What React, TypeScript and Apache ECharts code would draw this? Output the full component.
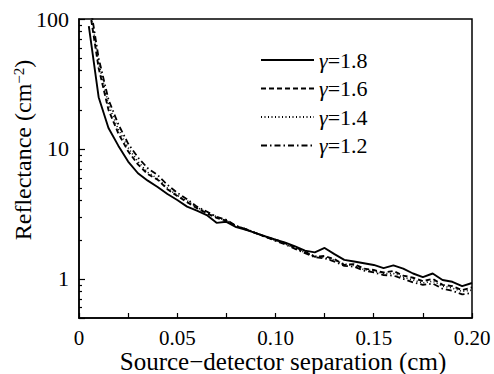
import React, { useEffect, useRef } from "react";
import * as echarts from "echarts";

const SEPARATION = [
  0.005, 0.01, 0.015, 0.02, 0.025, 0.03, 0.035, 0.04, 0.045, 0.05,
  0.055, 0.06, 0.065, 0.07, 0.075, 0.08, 0.085, 0.09, 0.095, 0.1,
  0.105, 0.11, 0.115, 0.12, 0.125, 0.13, 0.135, 0.14, 0.145, 0.15,
  0.155, 0.16, 0.165, 0.17, 0.175, 0.18, 0.185, 0.19, 0.195, 0.2,
];

const GAMMA_18 = [
  88, 25, 14.5, 10.6, 8.0, 6.5, 5.7, 5.1, 4.5, 4.05,
  3.6, 3.35, 3.1, 2.7, 2.75, 2.5, 2.38, 2.25, 2.12, 2.0,
  1.9, 1.78, 1.65, 1.6, 1.73, 1.55, 1.4, 1.36, 1.32, 1.28,
  1.21, 1.27, 1.2, 1.1, 1.03, 1.1, 0.98, 0.95, 0.88, 0.93,
];

const GAMMA_16 = [
  130, 42, 20, 13.2, 9.6, 7.6, 6.4, 5.8, 4.9, 4.35,
  3.9, 3.5, 3.2, 2.95, 2.8, 2.55, 2.4, 2.25, 2.1, 2.0,
  1.88, 1.75, 1.62, 1.48, 1.5, 1.42, 1.28, 1.3, 1.2, 1.17,
  1.12, 1.15, 1.06, 1.02, 0.96, 1.0, 0.9, 0.88, 0.82, 0.86,
];

const GAMMA_14 = [
  140, 46, 22, 14.2, 10.2, 8.0, 6.6, 5.9, 5.0, 4.4,
  4.0, 3.55, 3.25, 3.0, 2.8, 2.55, 2.42, 2.25, 2.12, 1.98,
  1.86, 1.72, 1.6, 1.5, 1.46, 1.4, 1.3, 1.27, 1.18, 1.15,
  1.1, 1.1, 1.03, 0.98, 0.93, 0.96, 0.88, 0.85, 0.8, 0.82,
];

const GAMMA_12 = [
  150, 50, 24, 15.5, 11.0, 8.6, 7.1, 6.3, 5.3, 4.6,
  4.1, 3.6, 3.3, 3.0, 2.85, 2.55, 2.42, 2.25, 2.1, 1.96,
  1.84, 1.7, 1.58, 1.47, 1.44, 1.36, 1.26, 1.24, 1.16, 1.12,
  1.07, 1.06, 1.0, 0.94, 0.9, 0.92, 0.84, 0.81, 0.76, 0.78,
];

const SERIES_NAMES = ["γ=1.8", "γ=1.6", "γ=1.4", "γ=1.2"];
const Y_LABELS = [1, 10, 100];
const Y_MINOR_TICKS = [
  0.6, 0.7, 0.8, 0.9, 2, 3, 4, 5, 6, 7, 8, 9, 20, 30, 40, 50, 60, 70, 80, 90,
];

const FONT = "Liberation Serif";

export default function App() {
  const ref = useRef<HTMLDivElement>(null);

  useEffect(() => {
    if (!ref.current) return;
    const chart = echarts.init(ref.current, undefined, { renderer: "svg" });
    const zip = (ys: number[]) => SEPARATION.map((x, i) => [x, ys[i]]);
    const styles = [
      { type: "solid" as any, width: 1.9 },
      { type: [5, 3] as any, width: 1.9 },
      { type: [1, 2.5] as any, width: 1.6 },
      { type: [6, 3, 1.5, 3] as any, width: 1.8 },
    ];
    const values = [GAMMA_18, GAMMA_16, GAMMA_14, GAMMA_12];

    chart.setOption({
      animation: false,
      backgroundColor: "#fff",
      textStyle: { fontFamily: FONT },
      grid: {
        left: 79,
        right: 22,
        top: 19,
        bottom: 56,
        show: true,
        borderColor: "#000",
        borderWidth: 1.5,
        backgroundColor: "transparent",
      },
      legend: {
        orient: "vertical",
        left: 260,
        top: 49,
        itemWidth: 53,
        itemHeight: 12,
        itemGap: 6.5,
        padding: 0,
        data: SERIES_NAMES,
        itemStyle: { opacity: 0 },
        formatter: (name: string) => `{i|γ}{n|${name.slice(1)}}`,
        textStyle: {
          fontFamily: FONT,
          fontSize: 22,
          lineHeight: 22,
          color: "#000",
          rich: {
            i: { fontFamily: FONT, fontSize: 22, fontStyle: "italic", color: "#000" },
            n: { fontFamily: FONT, fontSize: 22, color: "#000" },
          },
        },
      },
      xAxis: {
        type: "value",
        min: 0,
        max: 0.2,
        interval: 0.05,
        axisLine: { show: true, onZero: false, lineStyle: { color: "#000", width: 1.5 } },
        axisTick: { show: true, inside: true, length: 5, lineStyle: { color: "#000", width: 1.2 } },
        minorTick: { show: true, splitNumber: 2, length: 5, lineStyle: { color: "#000", width: 1.2 } },
        splitLine: { show: false },
        axisLabel: {
          color: "#000",
          fontFamily: FONT,
          fontSize: 21,
          lineHeight: 21,
          margin: 9,
          formatter: (v: number) => (v === 0 ? "0" : v.toFixed(2)),
        },
      },
      yAxis: [
        {
          type: "log",
          logBase: 10,
          min: 0.5,
          max: 100,
          axisLine: { show: true, onZero: false, lineStyle: { color: "#000", width: 1.5 } },
          axisTick: { show: true, inside: true, length: 6, lineStyle: { color: "#000", width: 1.2 } },
          splitLine: { show: false },
          axisLabel: {
            color: "#000",
            fontFamily: FONT,
            fontSize: 22,
            margin: 10,
            formatter: (v: number) => {
              const hit = Y_LABELS.find((l) => Math.abs(l - v) < l * 1e-6);
              return hit !== undefined ? String(hit) : "";
            },
          },
        },
        {
          type: "value",
          min: Math.log10(0.5),
          max: 2,
          position: "left",
          axisLine: { show: false, onZero: false },
          axisLabel: { show: false },
          splitLine: { show: false },
          axisTick: {
            show: true,
            inside: true,
            length: 3,
            customValues: Y_MINOR_TICKS.map((v) => Math.log10(v)),
            lineStyle: { color: "#000", width: 1.2 },
          },
        },
      ],
      graphic: [
        {
          type: "text",
          x: 23,
          y: 150,
          rotation: Math.PI / 2,
          style: {
            text: "Reflectance (cm{s|−2})",
            fontFamily: FONT,
            fontSize: 24,
            fill: "#000",
            align: "center",
            verticalAlign: "middle",
            rich: {
              s: { fontFamily: FONT, fontSize: 15, verticalAlign: "top", fill: "#000" },
            },
          },
        },
        {
          type: "text",
          x: 283,
          y: 361,
          style: {
            text: "Source−detector separation (cm)",
            fontFamily: FONT,
            fontSize: 25,
            lineHeight: 23,
            fill: "#000",
            align: "center",
            verticalAlign: "middle",
          },
        },
      ],
      series: SERIES_NAMES.map((name, i) => ({
        name,
        type: "line",
        xAxisIndex: 0,
        yAxisIndex: 0,
        symbol: "none",
        showSymbol: false,
        clip: true,
        data: zip(values[i]),
        lineStyle: { color: "#000", ...styles[i] },
        itemStyle: { color: "#000" },
      })),
    });
    return () => chart.dispose();
  }, []);

  return (
    <div
      ref={ref}
      style={{ position: "absolute", left: 0, top: 0, width: 494, height: 374 }}
    />
  );
}
